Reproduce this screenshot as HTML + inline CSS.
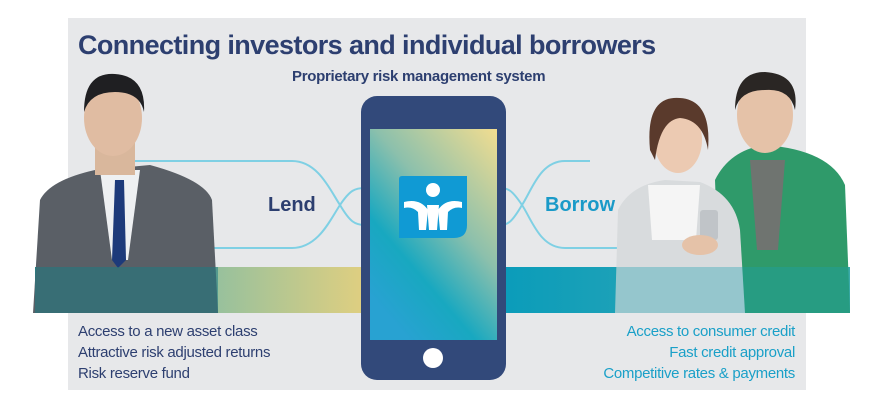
<!DOCTYPE html>
<html><head><style>
body{margin:0;width:880px;height:400px;background:#fff;overflow:hidden;position:relative;font-family:"Liberation Sans",sans-serif}
.a{position:absolute}
</style></head><body>
<div class="a" style="left:68px;top:18px;width:738px;height:372px;background:#e7e8ea"></div>
<div class="a" style="left:78px;top:30px;font-size:27px;font-weight:bold;color:#2d3f70;letter-spacing:-0.6px">Connecting investors and individual borrowers</div>
<div class="a" style="left:292px;top:68px;font-size:15px;font-weight:bold;color:#2d3f70;letter-spacing:-0.3px">Proprietary risk management system</div>
<svg class="a" style="left:0;top:0" width="880" height="400">
<defs>
<linearGradient id="lb" x1="0" x2="1"><stop offset="0" stop-color="#2a8a8a"/><stop offset="0.5" stop-color="#8fbfa0"/><stop offset="1" stop-color="#e0cf80"/></linearGradient>
<linearGradient id="rb" x1="0" x2="1"><stop offset="0" stop-color="#0a9cba"/><stop offset="0.6" stop-color="#2aa5b5"/><stop offset="1" stop-color="#4db0a8"/></linearGradient>
<linearGradient id="sc" x1="1" y1="0" x2="0.3" y2="1"><stop offset="0" stop-color="#f2dd90"/><stop offset="0.45" stop-color="#8cc0ac"/><stop offset="0.75" stop-color="#18a8c0"/><stop offset="1" stop-color="#28a2d2"/></linearGradient>
</defs>
<rect x="35" y="267" width="330" height="46" fill="url(#lb)"/>
<rect x="500" y="267" width="350" height="46" fill="url(#rb)"/>
<g fill="none" stroke="#7fd0e4" stroke-width="2">
<path d="M135 161 H292 C318 161 330 190 340 205 C350 222 355 225 365 225"/>
<path d="M200 248 H292 C318 248 330 220 340 205 C350 190 355 188 365 188"/>
<path d="M590 161 H565 C540 161 532 190 522 205 C512 222 508 225 500 225"/>
<path d="M620 248 H565 C540 248 532 220 522 205 C512 190 508 188 500 188"/>
</g>
<path d="M33 313 L40 200 Q50 180 95 170 L150 165 Q205 180 212 200 L218 313 Z" fill="#5a5f66"/>
<path d="M100 170 L140 170 L128 260 L112 260 Z" fill="#eef0f2"/>
<path d="M115 180 L124 180 L126 260 L118 268 L112 260 Z" fill="#1d3a7a"/>
<rect x="95" y="125" width="40" height="50" fill="#d9b79c"/>
<ellipse cx="113" cy="118" rx="29" ry="38" fill="#e0bca2"/>
<path d="M84 112 Q84 72 115 74 Q146 76 144 112 Q140 92 115 92 Q90 92 84 112Z" fill="#1f1f22"/>
<rect x="35" y="267" width="183" height="46" fill="#1d7a82" opacity="0.55"/>
<path d="M720 313 L715 180 Q730 150 765 145 Q830 150 845 185 L850 313Z" fill="#2f9a6a"/>
<path d="M750 160 L785 160 L778 250 L757 250Z" fill="#6f7470"/>
<ellipse cx="765" cy="115" rx="28" ry="38" fill="#e5c2a8"/>
<path d="M735 110 Q735 72 765 72 Q800 74 795 110 Q790 88 765 90 Q740 90 735 110Z" fill="#2a2624"/>
<path d="M615 313 L618 210 Q630 185 665 180 L700 182 Q735 195 740 230 L745 313Z" fill="#d8dbdd"/>
<path d="M648 185 L700 185 L696 240 L652 240Z" fill="#f5f5f5"/>
<ellipse cx="678" cy="140" rx="24" ry="33" fill="#eccab2"/>
<path d="M650 150 Q645 95 680 98 Q712 100 708 150 Q703 120 680 118 Q660 120 655 160Z" fill="#5a3a2c"/>
<rect x="700" y="210" width="18" height="30" rx="3" fill="#c0c4c8"/>
<ellipse cx="700" cy="245" rx="18" ry="10" fill="#e5c2a8"/>
<rect x="615" y="267" width="235" height="46" fill="#1aa0b0" opacity="0.35"/>
<rect x="361" y="96" width="145" height="284" rx="16" fill="#32497a"/>
<rect x="370" y="129" width="127" height="211" fill="url(#sc)"/>
<circle cx="433" cy="358" r="10" fill="#fff"/>
<path d="M402 176 H467 V225 Q467 238 454 238 H399 V179 Q399 176 402 176Z" fill="#109ad4"/>
<g fill="#fff"><circle cx="433" cy="190" r="7"/>
<path d="M404 202 Q420 198 428 210 L426 230 H419 L418 212 Q412 206 404 208Z"/>
<path d="M462 202 Q446 198 438 210 L440 230 H447 L448 212 Q454 206 462 208Z"/>
<path d="M427 205 H439 L437 230 H429Z"/></g>
</svg>
<div class="a" style="left:268px;top:194px;font-size:20px;font-weight:bold;color:#2d3f70">Lend</div>
<div class="a" style="left:545px;top:194px;font-size:20px;font-weight:bold;color:#1a9ac8">Borrow</div>
<div class="a" style="left:78px;top:321px;font-size:15px;line-height:21px;color:#2d3f70;letter-spacing:-0.3px">Access to a new asset class<br>Attractive risk adjusted returns<br>Risk reserve fund</div>
<div class="a" style="right:85px;top:321px;font-size:15px;line-height:21px;color:#1aa0c8;text-align:right;letter-spacing:-0.3px">Access to consumer credit<br>Fast credit approval<br>Competitive rates &amp; payments</div>
</body></html>
